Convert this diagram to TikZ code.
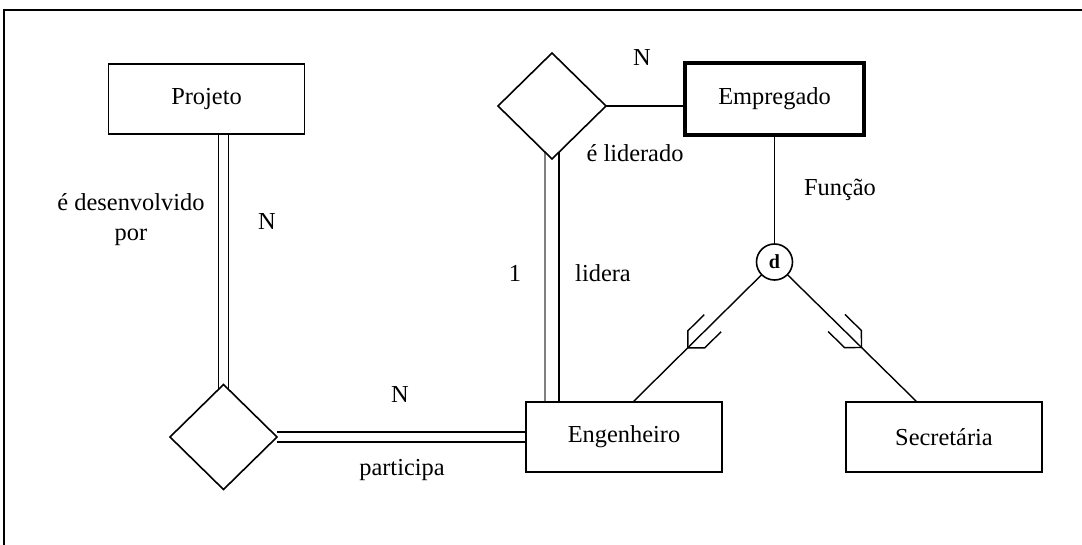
\documentclass[tikz,border=0pt]{standalone}
\usepackage{fontspec}
\setmainfont{Liberation Serif}
\usetikzlibrary{positioning,shapes.geometric,decorations.markings,backgrounds}

\tikzset{
  entity/.style={draw, line width=0.9pt, minimum width=98pt, minimum height=35pt, inner sep=0pt, outer sep=0pt},
  relation/.style={draw, diamond, line width=0.8pt, minimum width=54pt, minimum height=53pt, inner sep=0pt, outer sep=0pt},
  disjoint/.style={draw, circle, line width=0.8pt, minimum size=18pt, inner sep=0pt, outer sep=0pt, font=\bfseries},
  lbl/.style={inner sep=0pt},
  link/.style={line width=0.7pt},
  subsetmark/.style={postaction={decorate}, decoration={markings,
      mark=at position #1 with {\draw[link] (-17.5pt,6pt) -- (-6pt,6pt) -- (0pt,0pt) -- (-6pt,-6pt) -- (-17.5pt,-6pt);}}},
  subsetmark/.default=52pt
}

\begin{document}
\begin{tikzpicture}[x=0.5pt, y=-0.5pt, font=\fontsize{12.2}{15}\selectfont]
      \useasboundingbox (0,0) rectangle (1082,545);
      \draw[line width=1pt] (1082,10) -- (4,10) -- (4,545);
      % Define nodes
      \node[entity] (eng) at (624,437) {Engenheiro};
      \node[entity, right=62pt of eng] (sec) {Secretária};
      \node[entity, line width=2pt, minimum width=89.5pt, minimum height=36pt, above=133.5pt of eng, xshift=75.25pt] (emp) {Empregado};
      \node[entity] (proj) at (206.5,99) {Projeto};
      \node[relation, left=39.5pt of emp, yshift=-3.5pt] (lid) {};
      \node[relation, minimum width=53.5pt, minimum height=52.5pt, left=124.5pt of eng] (part) {};
      \node[disjoint, below=54.5pt of emp] (d) {d};
      % Labels
      \node[lbl] (nlid) at (642,58) {N};
      \node[lbl] (tlid) at (635,153) {é liderado};
      \node[lbl] (tfun) at (840,190) {Função};
      \node[lbl] (one) at (515,273) {1};
      \node[lbl] (tlidera) at (603,273) {lidera};
      \node[lbl, align=center] (tdes) at (131,220) {é desenvolvido\\por};
      \node[lbl] (nproj) at (267,222) {N};
      \node[lbl] (npart) at (400,395) {N};
      \node[lbl] (tpart) at (402,470) {participa};
      % Connect nodes
      \begin{scope}[on background layer]
        \draw[link, double, double distance=4.3pt] (part.north |- proj.south) -- ([yshift=-2.5pt]part.north);
        \draw[link, double, double distance=4.3pt] (part.east) -- (eng.west |- part.east);
        \draw[link] (lid.east) -- (lid.east -| emp.west);
        \draw[link, gray, transform canvas={xshift=-3.5pt}] ([yshift=3.5pt]lid.south) -- (lid.south |- eng.north);
        \draw[link, transform canvas={xshift=3.5pt}] ([yshift=3.5pt]lid.south) -- (lid.south |- eng.north);
        \draw[link] (emp.south -| d.north) -- (d.north);
        \draw[link, subsetmark] (d) -- ([xshift=4.5pt]eng.north);
        \draw[link, subsetmark] (d) -- ([xshift=-13.5pt]sec.north);
      \end{scope}
    \end{tikzpicture}
\end{document}
